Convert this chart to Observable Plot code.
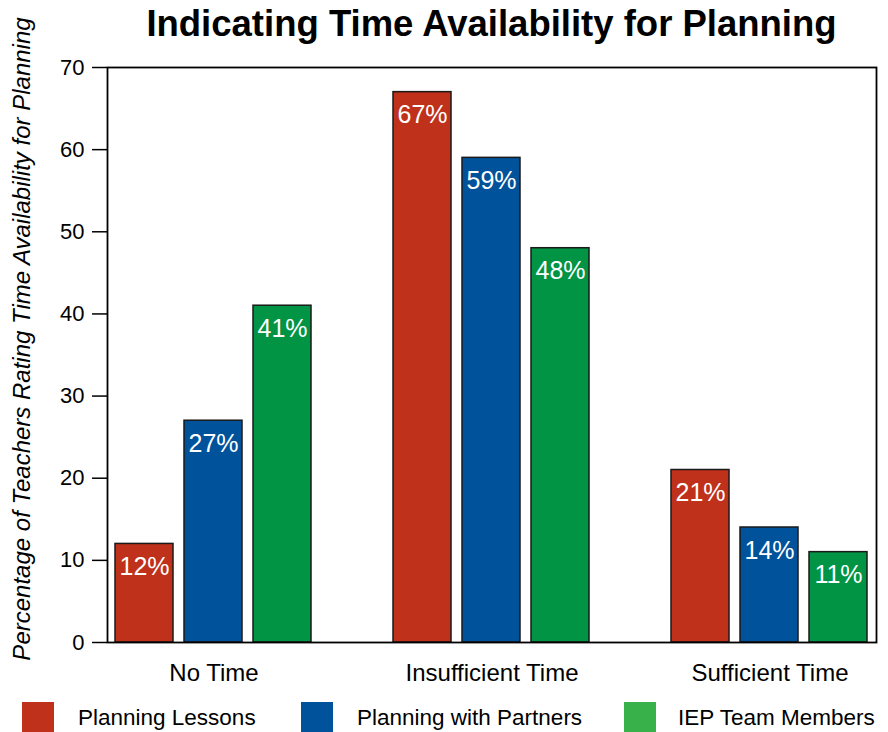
<!DOCTYPE html>
<html>
<head>
<meta charset="utf-8">
<script src="https://cdn.jsdelivr.net/npm/d3@7"></script>
<script src="https://cdn.jsdelivr.net/npm/@observablehq/plot@0.6"></script>
<style>
  html, body { margin: 0; padding: 0; background: #fff; }
  body { position: relative; width: 888px; height: 732px; overflow: hidden; font-family: "Liberation Sans", Arial, Helvetica, sans-serif; }
  #title { position: absolute; left: 0; top: 0; width: 769px; height: 47px; line-height: 47px; font-size: 36.5px; font-weight: bold; text-align: center; padding-left: 107px; padding-right: 12px; color: #000; white-space: nowrap; z-index: 2; }
  #chart svg { display: block; }
  #legend { position: relative; width: 888px; height: 37px; }
  .sw { position: absolute; top: 7px; width: 32px; height: 32px; }
  .lt { position: absolute; top: 12px; font-size: 22.5px; line-height: 22px; color: #000; white-space: nowrap; }
</style>
</head>
<body>
<div id="title">Indicating Time Availability for Planning</div>
<div id="chart"></div>
<div id="legend"></div>
<script>
const categories = ["No Time", "Insufficient Time", "Sufficient Time"];
const series = ["Planning Lessons", "Planning with Partners", "IEP Team Members"];
const planningLessons = [12, 67, 21];
const planningWithPartners = [27, 59, 14];
const iepTeamMembers = [41, 48, 11];
const yTicks = [0, 10, 20, 30, 40, 50, 60, 70];
const barColors = ["#BF311A", "#00529B", "#009444"];
const legendColors = ["#BF311A", "#00529B", "#39B14A"];
const yLabel = "Percentage of Teachers Rating Time Availability for Planning";

const seriesValues = [planningLessons, planningWithPartners, iepTeamMembers];
const data = [];
categories.forEach((c, i) => {
  series.forEach((s, j) => {
    data.push({category: c, series: s, value: seriesValues[j][i]});
  });
});

const chart = Plot.plot({
  width: 888,
  height: 695,
  marginLeft: 107,
  marginRight: 12,
  marginTop: 67,
  marginBottom: 53,
  style: {fontFamily: "'Liberation Sans', Arial, Helvetica, sans-serif", background: "white"},
  fx: {domain: categories, paddingInner: 0.235, paddingOuter: 0, label: null},
  x: {domain: series, paddingInner: 0.158, paddingOuter: 0.1115, axis: null},
  y: {domain: [0, 70], label: null},
  color: {domain: series, range: barColors},
  marks: [
    Plot.barY(data, {fx: "category", x: "series", y: "value", fill: "series", stroke: "#1a1a1a", strokeWidth: 1.5}),
    Plot.text(data, {fx: "category", x: "series", y: "value", text: d => d.value + "%", dy: 23, fill: "white", fontSize: 25}),
    Plot.axisY({ticks: yTicks, tickSize: 15, tickPadding: 8, fontSize: 22, label: null, stroke: "black", strokeWidth: 1.5, color: "black"}),
    Plot.axisFx({anchor: "bottom", tickSize: 0, tickPadding: 21, fontSize: 24, label: null, color: "black"}),
    Plot.frame({facet: "super", stroke: "black", strokeWidth: 1.8}),
    Plot.text([yLabel], {facet: "super", frameAnchor: "left", textAnchor: "middle", rotate: -90, dx: -85, dy: -16, text: d => d, fontSize: 24, fontStyle: "italic", fill: "black"})
  ]
});
document.getElementById("chart").appendChild(chart);

const legend = document.getElementById("legend");
const swatchLeft = [22, 301, 624];
const textLeft = [78, 357, 678];
series.forEach((s, i) => {
  const sw = document.createElement("div");
  sw.className = "sw";
  sw.style.left = swatchLeft[i] + "px";
  sw.style.background = legendColors[i];
  legend.appendChild(sw);
  const t = document.createElement("div");
  t.className = "lt";
  t.style.left = textLeft[i] + "px";
  t.textContent = s;
  legend.appendChild(t);
});
</script>
</body>
</html>
